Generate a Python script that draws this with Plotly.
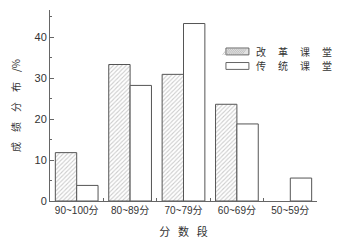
import plotly.graph_objects as go

categories = ["90~100分", "80~89分", "70~79分", "60~69分", "50~59分"]
reform = [11.8, 33.3, 30.9, 23.6, 0]
traditional = [3.8, 28.2, 43.3, 18.8, 5.6]
legend_chars = ["改革课堂", "传统课堂"]

font_cjk = "Noto Sans CJK SC"
gap = "\u2003\u2009"

fig = go.Figure()
fig.add_trace(go.Bar(
    x=categories, y=reform, name=gap.join(legend_chars[0]),
    marker=dict(color="white", line=dict(color="#555", width=[0 if v == 0 else 1 for v in reform]),
                pattern=dict(shape="/", fgcolor="#999", bgcolor="white", size=3, solidity=0.35)),
))
fig.add_trace(go.Bar(
    x=categories, y=traditional, name=gap.join(legend_chars[1]),
    marker=dict(color="white", line=dict(color="#555", width=1)),
))

# legend drawn as paper-positioned swatches and labels
lx0, lx1 = 0.659, 0.745
rows = [(0.801, 0.765), (0.725, 0.689)]
for i, (ytop, ybot) in enumerate(rows):
    fig.add_shape(type="rect", xref="paper", yref="paper", x0=lx0, x1=lx1, y0=ybot, y1=ytop,
                  line=dict(color="#666", width=1), fillcolor="#e2e2e2" if i == 0 else "white")
    if i == 0:
        for k in range(1, 12):
            fx = lx0 + (lx1 - lx0) * k / 12
            fig.add_shape(type="line", xref="paper", yref="paper",
                          x0=fx - 0.02, x1=fx, y0=ybot, y1=ytop,
                          line=dict(color="#aaa", width=0.6))
    fig.add_annotation(xref="paper", yref="paper", x=lx1 + 0.02, y=(ytop + ybot) / 2,
                       text=gap.join(legend_chars[i]), showarrow=False, xanchor="left", yanchor="middle",
                       font=dict(size=10, family=font_cjk, color="#333"))

fig.update_layout(
    width=341, height=247,
    margin=dict(l=50, r=24, t=10, b=39),
    paper_bgcolor="white", plot_bgcolor="white",
    barmode="group", bargap=0.2, bargroupgap=0,
    font=dict(family="Arial, " + font_cjk, size=11, color="#333"),
    showlegend=False,
)
fig.update_xaxes(
    showline=True, linecolor="#666", linewidth=1,
    ticks="inside", ticklen=3, tickcolor="#666", tickson="boundaries",
    tickfont=dict(size=10, family="Arial, " + font_cjk),
    title=dict(text="\u2002\u2009".join("分数段"), font=dict(size=11, family=font_cjk), standoff=13),
    showgrid=False,
)
fig.update_yaxes(
    range=[0, 46.6], dtick=10, showline=True, linecolor="#666", linewidth=1,
    ticks="inside", ticklen=4, tickcolor="#666",
    minor=dict(dtick=5, ticks="inside", ticklen=2, tickcolor="#666"),
    showgrid=False, zeroline=False,
    tickfont=dict(size=11),
    title=dict(text="\u2003".join(["成", "绩", "分", "布", "/%"]), font=dict(size=10, family=font_cjk), standoff=12),
)
fig.write_html("out.html")
